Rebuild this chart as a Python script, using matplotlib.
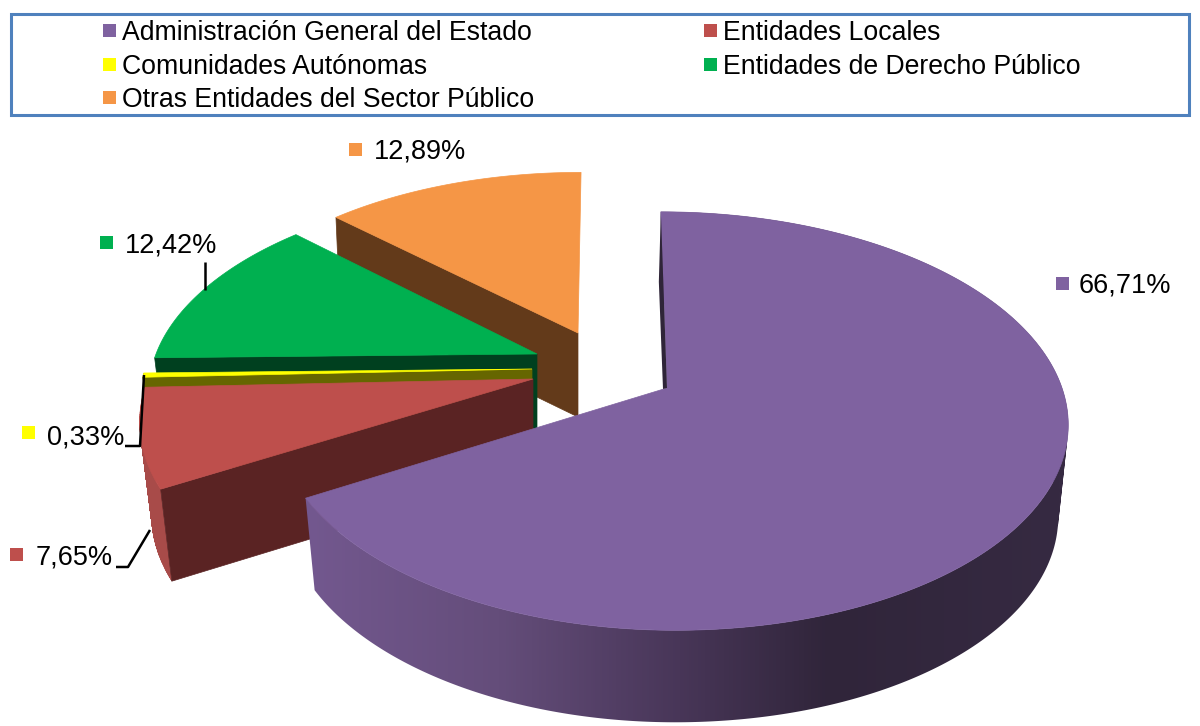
import numpy as np
import matplotlib
matplotlib.use('Agg')
import matplotlib.pyplot as plt
from matplotlib.colors import LinearSegmentedColormap
from matplotlib.patches import PathPatch, Polygon, Rectangle
from matplotlib.path import Path

plt.rcParams['font.family'] = ['Liberation Sans', 'DejaVu Sans']

# data
names = ['Administración General del Estado', 'Entidades Locales', 'Comunidades Autónomas',
         'Entidades de Derecho Público', 'Otras Entidades del Sector Público']
values = [66.71, 7.65, 0.33, 12.42, 12.89]
value_labels = ['66,71%', '7,65%', '0,33%', '12,42%', '12,89%']

# styles
top_colors = ['#7f62a0', '#be4f4c', '#ffff00', '#00b050', '#f59646']
side_colors = ['#7f62a0', '#a84b49', '#666600', '#00401f', '#633a1a']
face_colors = ['#2f2538', '#5a2323', '#666600', '#00401f', '#633a1a']

# apex x, apex y, radius right, radius left, radius y, shear, depth, shrink of the lower ring
geom = [(667, 388, 395, 388, 204, 0.035, 92, 0.975),
        (533, 379, 385, 385, 204, -0.09, 92, 0.97),
        (532, 369, 387, 387, 204, 0.0, 92, 0.97),
        (537, 354, 381, 381, 192, -0.065, 92, 0.97),
        (578, 333, 374, 374, 186, -0.019, 84, 0.985)]
persp = 0.158

label_pos = [(1079, 285), (36, 558), (47, 437), (125, 246), (374, 151)]
square_pos = [(1056, 277), (10, 548), (22, 426), (100, 236), (349, 143)]
leaders = [None,
           [(116, 567), (128, 567), (150, 530)],
           [(125, 446), (140, 446), (144, 375)],
           [(205, 262), (205, 290)],
           None]
legend_pos = [(103, 24), (704, 24), (103, 58), (704, 58), (103, 91)]


def ring(theta, g):
    x0, y0, br, bl, a, sh, d, m = g
    s = np.sin(theta)
    c = np.cos(theta)
    den = 1 + persp * c
    b = np.where(s > 0, br, bl)
    y = -a * c / den
    x = b * s / den + sh * y
    return x0 + x, y0 + y


def lower(x, y, g):
    return g[0] + (x - g[0]) * g[7], y + g[6]


def rim_path(x, y, xb, yb):
    # all quads wound the same way so that they fill as a union
    parts = []
    for j in range(len(x) - 1):
        q = np.array([(x[j], y[j]), (x[j + 1], y[j + 1]), (xb[j + 1], yb[j + 1]), (xb[j], yb[j])])
        area = np.sum(q[:, 0] * np.roll(q[:, 1], -1) - np.roll(q[:, 0], -1) * q[:, 1])
        if area < 0:
            q = q[::-1]
        parts.append(Path(np.vstack([q, q[:1]]), closed=True))
    return Path.make_compound_path(*parts)


fig = plt.figure(figsize=(12, 7.26), dpi=100)
ax = fig.add_axes([0, 0, 1, 1])

# shading of the big rim, left to right
stops = [(0.0, '#73588f'), (306 / 1200, '#73588f'), (500 / 1200, '#644d7a'), (680 / 1200, '#483658'),
         (830 / 1200, '#30253a'), (1060 / 1200, '#362a42'), (1.0, '#362a42')]
rim_cmap = LinearSegmentedColormap.from_list('rim', stops, N=512)

edges = np.cumsum([0] + values) * 2 * np.pi / 100

# back to front
for i in [4, 3, 2, 1, 0]:
    g = geom[i]
    th = np.linspace(edges[i], edges[i + 1], max(int(values[i] * 8), 4))
    x, y = ring(th, g)
    xb, yb = lower(x, y, g)

    # rim, the two back slices hide theirs
    path = rim_path(x, y, xb, yb)
    if i == 0:
        rim = PathPatch(path, fc='none', ec='none')
        ax.add_patch(rim)
        # images sit under patches by default, the red slice must stay behind this one
        im = ax.imshow(np.linspace(0, 1, 1200).reshape(1, -1), cmap=rim_cmap, aspect='auto',
                       extent=(0, 1200, 726, 0), vmin=0, vmax=1, interpolation='bilinear', zorder=1)
        im.set_clip_path(rim)
    elif i < 3:
        ax.add_patch(PathPatch(path, fc=side_colors[i], ec=side_colors[i], lw=0.3))

    # cut face that looks to the viewer
    if i > 0:
        ax.add_patch(Polygon([(g[0], g[1]), (x[0], y[0]), (xb[0], yb[0]), lower(g[0], g[1], g)],
                             fc=face_colors[i], ec=face_colors[i], lw=0.5))
    # top
    pts = [(g[0], g[1])] + list(zip(x, y))
    ax.add_patch(Polygon(pts, fc=top_colors[i], ec=top_colors[i], lw=0.5))
    if i == 0:
        ax.add_patch(Polygon([(x[0], y[0]), (g[0], g[1]), (g[0] - 4, g[1] + 1), (x[0] - 2, y[0] + 70)],
                             fc=face_colors[0], ec='none'))

ax.set_xlim(0, 1200)
ax.set_ylim(726, 0)
ax.axis('off')

# leader lines
for pts in leaders:
    if pts:
        ax.plot(*zip(*pts), color='black', lw=1.8, solid_capstyle='butt')

# value labels
for i in range(len(values)):
    sx, sy = square_pos[i]
    ax.add_patch(Rectangle((sx, sy), 13, 13, fc=top_colors[i], ec='none'))
    ax.text(label_pos[i][0], label_pos[i][1], value_labels[i], fontsize=19.5, color='black',
            va='center', ha='left')

# legend
ax.add_patch(Rectangle((11, 14), 1178, 101, fc='white', ec='#4f81bd', lw=2.2))
for i in range(len(names)):
    sx, sy = legend_pos[i]
    ax.add_patch(Rectangle((sx, sy), 13, 13, fc=top_colors[i], ec='none'))
    ax.text(sx + 19, sy + 9, names[i], fontsize=19.2, color='black', va='center', ha='left')

fig.savefig('out.png', dpi=100)
